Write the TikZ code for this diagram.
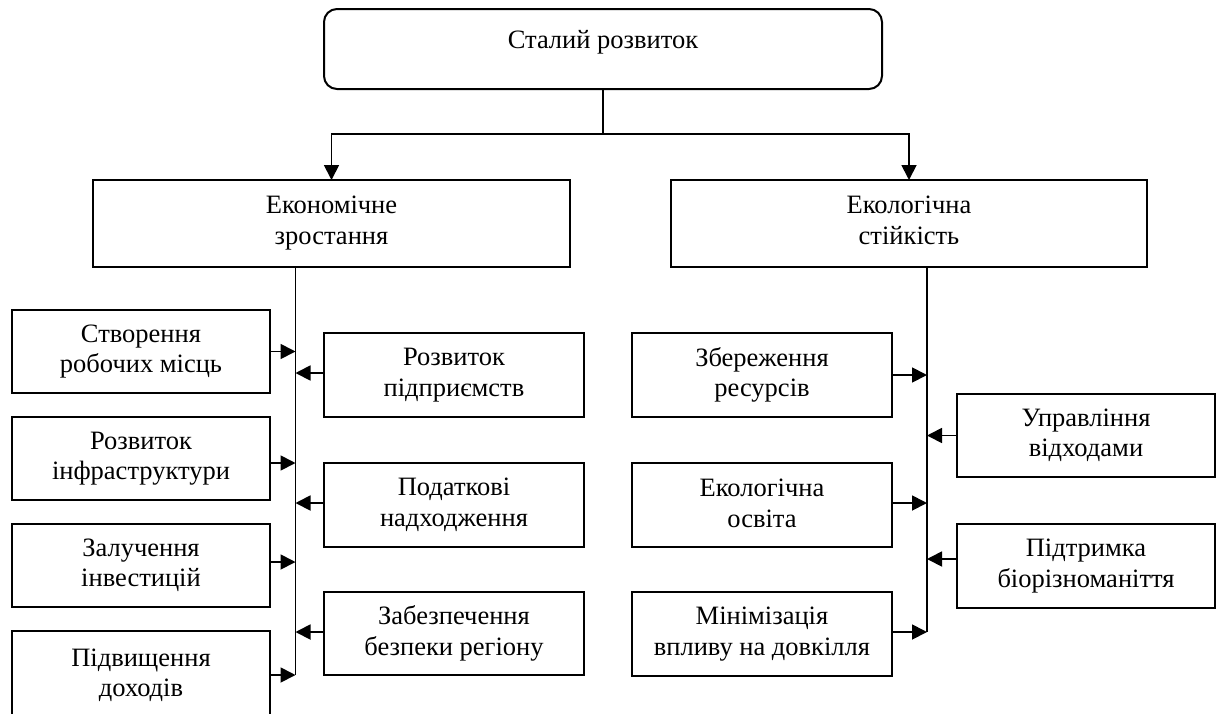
\documentclass[tikz,border=0pt]{standalone}
\usepackage{fontspec}
\setmainfont{Liberation Serif}
\usetikzlibrary{arrows.meta}
\newcommand{\leafstrut}{\rule[-4pt]{0pt}{30pt}}
\newcommand{\midstrut}{\rule[-7pt]{0pt}{30pt}}
\begin{document}
\begin{tikzpicture}[x=1pt,y=-1pt,
  every node/.style={font=\fontsize{26.5}{30.5}\selectfont, align=center, inner sep=0pt, outer sep=0pt},
  boxbase/.style={draw, line width=2pt, fill=white},
  topbox/.style={boxbase, rounded corners=13pt, minimum width=558pt, minimum height=80pt},
  midbox/.style={boxbase, minimum width=477pt, minimum height=87pt,
    execute at begin node=\midstrut, execute at end node=\midstrut},
  leafa/.style={boxbase, minimum width=258pt, minimum height=83pt,
    execute at begin node=\leafstrut, execute at end node=\leafstrut},
  leafb/.style={leafa, minimum width=260pt, minimum height=84pt},
  conn/.style={line width=1.8pt},
  arr/.style={conn, -{Triangle[length=15pt,width=15pt]}}
]
\useasboundingbox (0,0) rectangle (1216,713);
\clip (0,0) rectangle (1216,713);

% top
\node[topbox] (top) at (603,49) {\raisebox{7pt}[\height][\depth]{Сталий розвиток}};
\node[midbox] (econ) at (331.5,223.5) {Економічне\\зростання};
\node[midbox, minimum width=476pt] (ecol) at (909,223.5) {Екологічна\\стійкість};

\coordinate (split) at (603,134);
\draw[conn] (top.south) -- (split);
\draw[arr] (split) -| (econ.north);
\draw[arr] (split) -| (ecol.north);

% economic group
\node[leafa] (l1) at (141,351.5) {Створення\\робочих місць};
\node[leafa] (l2) at (141,458.5) {Розвиток\\інфраструктури};
\node[leafa] (l3) at (141,565.5) {Залучення\\інвестицій};
\node[leafa, minimum height=89pt] (l4) at (141,675.5) {Підвищення\\доходів};

\node[leafb] (r1) at (454,375) {Розвиток\\підприємств};
\node[leafb] (r2) at (454,505) {Податкові\\надходження};
\node[leafb, minimum height=83pt] (r3) at (454,633.5) {Забезпечення\\безпеки регіону};

\coordinate (eline) at (295.5,675);
\draw[conn] (econ.south -| eline) -- (eline);
\draw[arr] (l1.east) -- (l1.east -| eline);
\draw[arr] ([yshift=-4.5pt]l2.east) -- ([yshift=-4.5pt]l2.east -| eline);
\draw[arr] ([yshift=3.5pt]l3.east) -- ([yshift=3.5pt]l3.east -| eline);
\draw[arr] ([yshift=0.5pt]l4.east) -- ([yshift=0.5pt]l4.east -| eline);
\draw[arr] ([yshift=2pt]r1.west) -- ([yshift=2pt]r1.west -| eline);
\draw[arr] ([yshift=2pt]r2.west) -- ([yshift=2pt]r2.west -| eline);
\draw[arr] ([yshift=1.5pt]r3.west) -- ([yshift=1.5pt]r3.west -| eline);

% ecological group
\node[leafb] (e1) at (762,375) {Збереження\\ресурсів};
\node[leafb] (e2) at (762,505) {Екологічна\\освіта};
\node[leafb] (e3) at (762,634) {Мінімізація\\впливу на довкілля};

\node[leafa] (f1) at (1086,435.5) {Управління\\відходами};
\node[leafa, minimum height=84pt] (f2) at (1086,566) {Підтримка\\біорізноманіття};

\coordinate (fline) at (927,632);
\draw[conn] (ecol.south -| fline) -- (fline);
\draw[arr] (e1.east) -- (e1.east -| fline);
\draw[arr] ([yshift=2pt]e2.east) -- ([yshift=2pt]e2.east -| fline);
\draw[arr] ([yshift=2pt]e3.east) -- ([yshift=2pt]e3.east -| fline);
\draw[arr] (f1.west) -- (f1.west -| fline);
\draw[arr] ([yshift=7pt]f2.west) -- ([yshift=7pt]f2.west -| fline);
\end{tikzpicture}
\end{document}
